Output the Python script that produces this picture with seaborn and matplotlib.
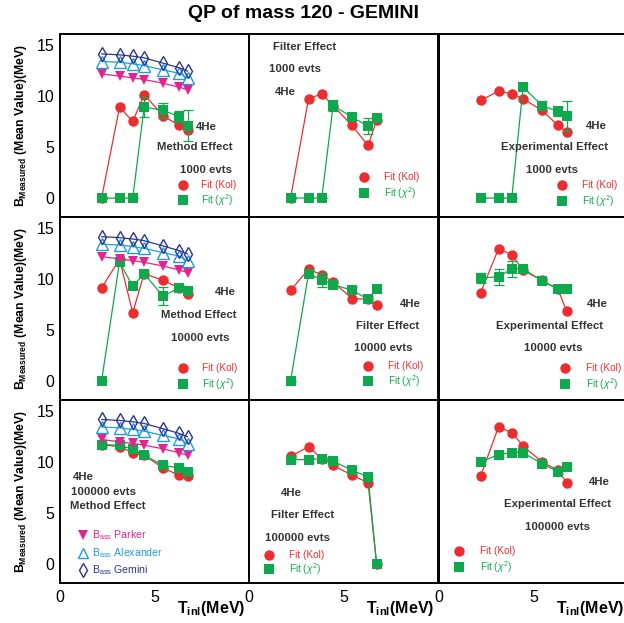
import numpy as np
import matplotlib
matplotlib.use("Agg")
import matplotlib.pyplot as plt
from matplotlib.ticker import MultipleLocator, FixedLocator
import seaborn as sns

# ---------------- data ----------------
t_inl = [2.2, 3.15, 3.85, 4.45, 5.45, 6.3, 6.75]

b_parker = [12.19, 11.96, 11.80, 11.63, 11.27, 10.88, 10.62]
b_alexander = [13.40, 13.33, 13.17, 13.00, 12.58, 12.25, 11.78]
b_gemini = [14.15, 14.05, 13.92, 13.76, 13.24, 12.78, 12.45]

# Fit (Kol) results, rows: 1000 / 10000 / 100000 evts, cols: method / filter / experimental
kol_1000_method = [0.0, 8.92, 7.52, 10.16, 8.10, 7.12, 6.63]
kol_1000_filter = [0.0, 9.74, 10.23, 9.08, 7.12, 5.16, 7.61]
kol_1000_exp = [9.58, 10.49, 10.23, 9.74, 8.60, 7.12, 6.47]
kol_10000_method = [9.12, 11.92, 6.68, 10.52, 9.87, 9.12, 8.57]
kol_10000_filter = [8.89, 10.94, 10.42, 9.71, 8.08, 8.01, 7.43]
kol_10000_exp = [8.66, 12.96, 12.38, 10.85, 9.87, 8.99, 6.84]
kol_100000_method = [11.69, 11.46, 10.90, 10.64, 9.39, 8.67, 8.61]
kol_100000_filter = [10.54, 11.46, 10.31, 9.66, 8.67, 7.95, 0.0]
kol_100000_exp = [8.58, 13.42, 12.86, 11.55, 9.98, 9.17, 7.95]

# Fit (chi2) results
chi_1000_method = [0.0, 0.0, 0.0, 8.92, 8.60, 8.00, 7.10]
chi_1000_filter = [0.0, 0.0, 0.0, 9.08, 7.94, 7.06, 7.84]
chi_1000_exp = [0.0, 0.0, 0.0, 10.88, 9.08, 8.50, 8.04]
chi_10000_method = [0.0, 11.66, 9.28, 10.52, 8.31, 9.12, 8.80]
chi_10000_filter = [0.0, 10.52, 9.93, 9.45, 8.89, 8.01, 9.06]
chi_10000_exp = [10.10, 10.20, 11.00, 11.00, 9.80, 8.99, 9.06]
chi_100000_method = [11.69, 11.62, 11.23, 10.64, 9.66, 9.39, 9.00]
chi_100000_filter = [10.21, 10.21, 10.31, 10.05, 9.17, 8.51, 0.0]
chi_100000_exp = [9.98, 10.70, 10.90, 10.87, 9.82, 9.00, 9.49]

# chi2 fit uncertainties
chi_err_1000_method = [0, 0, 0, 1.0, 0.75, 0.5, 1.55]
chi_err_1000_filter = [0, 0, 0, 0.5, 0.3, 0.8, 0.3]
chi_err_1000_exp = [0, 0, 0, 0.35, 0.4, 0.45, 1.5]
chi_err_10000_method = [0, 0.3, 0.3, 0.3, 0.9, 0.3, 0.3]
chi_err_10000_filter = [0, 0.3, 0.7, 0.3, 0.3, 0.3, 0.3]
chi_err_10000_exp = [0.5, 0.8, 0.8, 0.3, 0.3, 0.3, 0.3]
chi_err_100000_method = [0.2, 0.2, 0.2, 0.2, 0.2, 0.2, 0.2]
chi_err_100000_filter = [0.2, 0.2, 0.2, 0.2, 0.2, 0.2, 0.0]
chi_err_100000_exp = [0.2, 0.2, 0.2, 0.2, 0.2, 0.2, 0.2]

effects = ["Method Effect", "Filter Effect", "Experimental Effect"]
event_labels = ["1000 evts", "10000 evts", "100000 evts"]
x_tick_labels = ["0", "5", ""]
y_tick_values = [0, 5, 10, 15]

kol = [[kol_1000_method, kol_1000_filter, kol_1000_exp],
       [kol_10000_method, kol_10000_filter, kol_10000_exp],
       [kol_100000_method, kol_100000_filter, kol_100000_exp]]
chi = [[chi_1000_method, chi_1000_filter, chi_1000_exp],
       [chi_10000_method, chi_10000_filter, chi_10000_exp],
       [chi_100000_method, chi_100000_filter, chi_100000_exp]]
chi_err = [[chi_err_1000_method, chi_err_1000_filter, chi_err_1000_exp],
           [chi_err_10000_method, chi_err_10000_filter, chi_err_10000_exp],
           [chi_err_100000_method, chi_err_100000_filter, chi_err_100000_exp]]

# ---------------- style ----------------
sns.set_style("white")
plt.rcParams["font.family"] = ["Liberation Sans", "DejaVu Sans"]
plt.rcParams["mathtext.fontset"] = "custom"
plt.rcParams["mathtext.rm"] = "Liberation Sans"
plt.rcParams["mathtext.it"] = "Liberation Sans:italic"
plt.rcParams["mathtext.bf"] = "Liberation Sans:bold"

RED = "#ec2d2f"
GREEN = "#10a84c"
MAGENTA = "#e6228f"
CYAN = "#1c9de0"
NAVY = "#2d3491"
TXT = "#333333"

W, H = 624, 623
fig = plt.figure(figsize=(W / 100, H / 100), dpi=100)

col_left = [60, 249, 439]
col_w = 189
row_top = [34.5, 217.3, 400.1]
row_h = 182.9

# annotation layout (pixel offsets from panel top-left): (text-kind, dx, dy, ha)
notes = {
    (0, 0): [("he", 146.7, 92.2, "center"), ("eff", 135, 112.2, "center"), ("evt", 146, 135.5, "center")],
    (0, 1): [("eff", 24.3, 12.2, "left"), ("evt", 20, 34.8, "left"), ("he", 26, 57.2, "left")],
    (0, 2): [("he", 157.7, 91.5, "center"), ("eff", 116, 112.8, "center"), ("evt", 112.7, 135.5, "center")],
    (1, 0): [("he", 165, 75, "center"), ("eff", 139, 97.7, "center"), ("evt", 140, 120.4, "center")],
    (1, 1): [("he", 161, 86.7, "center"), ("eff", 138.3, 108.7, "center"), ("evt", 134.3, 131, "center")],
    (1, 2): [("he", 158.3, 87, "center"), ("eff", 111, 108.7, "center"), ("evt", 114.3, 131, "center")],
    (2, 0): [("he", 12.7, 76.6, "left"), ("evt", 10.7, 92.2, "left"), ("eff", 10, 105.9, "left")],
    (2, 1): [("he", 42.7, 92.6, "center"), ("eff", 53.7, 114.9, "center"), ("evt", 48.7, 137.6, "center")],
    (2, 2): [("he", 160, 82.2, "center"), ("eff", 118.3, 104.2, "center"), ("evt", 118.7, 126.9, "center")],
}
# fit legend layout: marker dx, text dx, circle dy, square dy
fit_keys = {
    (0, 0): (122.7, 140.7, 150.5, 165.5),
    (0, 1): (115, 135, 142.2, 158.8),
    (0, 2): (123.3, 142.7, 150.5, 166.2),
    (1, 0): (122.7, 141.7, 151, 167),
    (1, 1): (119.3, 139.3, 148.4, 163.4),
    (1, 2): (126, 146.5, 151, 167),
    (2, 0): None,
    (2, 1): (20.3, 40.3, 154.9, 168.9),
    (2, 2): (20.3, 41, 150.9, 167.2),
}


def frac(dx, dy):
    return dx / col_w, 1 - dy / row_h


MS = 7.5
for r in range(3):
    for c in range(3):
        l, t = col_left[c], row_top[r]
        ax = fig.add_axes([l / W, 1 - (t + row_h) / H, col_w / W, row_h / H])
        ax.set_facecolor("white")

        k = kol[r][c]
        g = chi[r][c]
        ge = chi_err[r][c]

        sns.lineplot(x=t_inl, y=k, ax=ax, color=RED, marker="o", markersize=MS,
                     markerfacecolor=RED, markeredgecolor=RED, markeredgewidth=0,
                     linewidth=0.9, sort=False, estimator=None, legend=False)
        ax.errorbar(t_inl, g, yerr=ge, fmt="none", ecolor=GREEN, elinewidth=0.9,
                    capsize=3.5, capthick=0.9, zorder=2)
        sns.lineplot(x=t_inl, y=g, ax=ax, color=GREEN, marker="s", markersize=MS - 0.5,
                     markerfacecolor=GREEN, markeredgecolor=GREEN, markeredgewidth=0,
                     linewidth=0.9, sort=False, estimator=None, legend=False)

        if c == 0:
            sns.lineplot(x=t_inl, y=b_parker, ax=ax, color=MAGENTA, marker="v", markersize=MS,
                         markerfacecolor=MAGENTA, markeredgecolor=MAGENTA, markeredgewidth=0,
                         linewidth=0.9, sort=False, estimator=None, legend=False)
            sns.lineplot(x=t_inl, y=b_alexander, ax=ax, color=CYAN, marker="^", markersize=MS + 0.5,
                         markerfacecolor="none", markeredgecolor=CYAN, markeredgewidth=1.0,
                         linewidth=0.9, sort=False, estimator=None, legend=False)
            sns.lineplot(x=t_inl, y=b_gemini, ax=ax, color=NAVY, marker="d", markersize=MS,
                         markerfacecolor="none", markeredgecolor=NAVY, markeredgewidth=1.0,
                         linewidth=0.9, sort=False, estimator=None, legend=False)

        ax.set_xlim(0, 10)
        ax.set_ylim(-1.9, 16.05)
        ax.xaxis.set_major_locator(FixedLocator([0, 5, 10]))
        ax.xaxis.set_minor_locator(MultipleLocator(1))
        ax.yaxis.set_major_locator(FixedLocator(y_tick_values))
        ax.yaxis.set_minor_locator(MultipleLocator(1))
        ax.tick_params(axis="both", which="both", direction="in", top=False, right=False,
                       colors="black", labelsize=11.5, width=1.0)
        ax.tick_params(axis="y", which="major", length=7.5, pad=4)
        ax.tick_params(axis="y", which="minor", length=3.8)
        ax.tick_params(axis="x", which="major", length=6.5, pad=5)
        ax.tick_params(axis="x", which="minor", length=4.5)
        if r == 2:
            ax.set_xticklabels(x_tick_labels)
        else:
            ax.set_xticklabels([])
        if c == 0:
            ax.set_yticklabels([str(v) for v in y_tick_values])
        else:
            ax.set_yticklabels([])
        ax.set_xlabel("")
        ax.set_ylabel("")
        for s in ax.spines.values():
            s.set_visible(True)
            s.set_color("black")
            s.set_linewidth(1.4)

        # panel annotations
        for kind, dx, dy, ha in notes[(r, c)]:
            txt = {"he": "4He", "eff": effects[c], "evt": event_labels[r]}[kind]
            x, y = frac(dx, dy)
            ax.text(x, y, txt, transform=ax.transAxes, ha=ha, va="center",
                    fontsize=8.2, fontweight="bold", color=TXT)

        # fit legend
        fk = fit_keys[(r, c)]
        if fk is not None:
            mdx, tdx, cdy, sdy = fk
            x, y = frac(mdx, cdy)
            ax.plot([x], [y], transform=ax.transAxes, marker="o", ms=MS, color=RED,
                    mew=0, clip_on=False)
            ax.text(frac(tdx, cdy)[0], y, "Fit (Kol)", transform=ax.transAxes,
                    ha="left", va="center", fontsize=7.2, color=RED)
            x, y = frac(mdx, sdy)
            ax.plot([x], [y], transform=ax.transAxes, marker="s", ms=MS - 0.5, color=GREEN,
                    mew=0, clip_on=False)
            ax.text(frac(tdx, sdy)[0], y, r"Fit ($\chi^{2}$)", transform=ax.transAxes,
                    ha="left", va="center", fontsize=7.2, color=GREEN)
        else:
            entries = [("v", MAGENTA, MAGENTA, "Parker", 134.9),
                       ("^", "none", CYAN, "Alexander", 153.2),
                       ("d", "none", NAVY, "Gemini", 169.9)]
            for mk, fc, ec, name, dy in entries:
                x, y = frac(23, dy)
                ax.plot([x], [y], transform=ax.transAxes, marker=mk, ms=MS,
                        markerfacecolor=fc, markeredgecolor=ec,
                        mew=0 if fc != "none" else 1.0, clip_on=False)
                ax.text(frac(32, dy)[0], y, r"B$_{\rm ass}$ " + name, transform=ax.transAxes,
                        ha="left", va="center", fontsize=7.6, color=ec)

        # axis titles
        if c == 0:
            fig.text(21 / W, 1 - (t + row_h / 2) / H,
                     r"$\mathbf{B_{Measured}\ (Mean\ Value)(MeV)}$",
                     rotation=90, ha="center", va="center", fontsize=8.8, color="black")
        if r == 2:
            fig.text((l + col_w - 4) / W, 1 - 613 / H, r"$\mathbf{T_{inl}(MeV)}$",
                     ha="right", va="baseline", fontsize=11.5, color="black")

fig.text(304 / W, 1 - 13.5 / H, "QP of mass 120 - GEMINI", ha="center", va="center",
         fontsize=14, fontweight="bold", color="black")

fig.savefig("out.png", dpi=100, facecolor="white")
